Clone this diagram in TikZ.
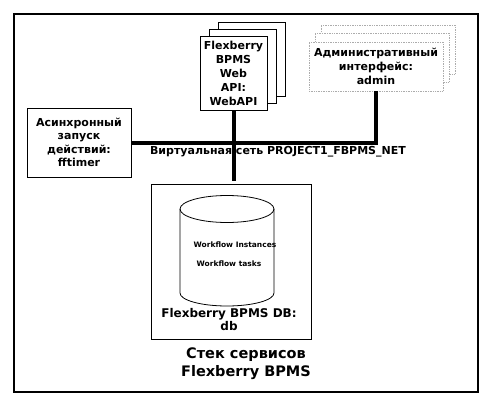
\documentclass[tikz,border=0pt]{standalone}
\usepackage{fontspec}
\setmainfont{DejaVu Sans}
\begin{document}
\begin{tikzpicture}[x=1pt,y=-1pt,
  box/.style={draw=black, line width=0.8pt, fill=white, inner sep=0pt},
  ghost/.style={draw=gray!65, line width=0.7pt, densely dotted, fill=white, inner sep=0pt},
  lbl/.style={font=\bfseries\fontsize{11}{14}\selectfont, align=center},
  small/.style={font=\bfseries\fontsize{7.5}{9}\selectfont},
  title/.style={font=\bfseries\fontsize{14.5}{18}\selectfont, align=center},
  bus/.style={line width=4pt}]
\useasboundingbox[fill=white] (0,0) rectangle (495,404);
\draw[line width=1.5pt] (14,14) rectangle (478,392);
% WebAPI stack
\node[box, minimum width=67pt, minimum height=74pt] (web3) at (251.5,59) {};
\node[box, minimum width=67pt, minimum height=74pt] (web2) at (242.5,66) {};
\node[box, minimum width=67pt, minimum height=74pt, lbl] (web) at (233.5,73) {Flexberry\\BPMS\\Web\\API:\\WebAPI};
% admin stack
\node[ghost, minimum width=134pt, minimum height=49pt] (adm3) at (388,49.5) {};
\node[ghost, minimum width=134pt, minimum height=49pt] (adm2) at (382,57.5) {};
\node[ghost, minimum width=134pt, minimum height=49pt, lbl] (adm) at (376,66.5) {Административный\\интерфейс:\\admin};
% fftimer
\node[box, minimum width=104pt, minimum height=69pt, lbl, font=\bfseries\fontsize{11}{13.5}\selectfont] (ff) at (79,142.5) {Асинхронный\\запуск\\действий:\\fftimer};
% DB box
\node[box, minimum width=160pt, minimum height=155pt] (db) at (231,261.5) {};
% connectors
\coordinate (j) at (adm.south |- ff.east);
\coordinate (dbtop) at (web.south |- 0,181);
\draw[bus] (ff.east) -- (j) -- (adm.south);
\draw[bus] (web.south) -- (dbtop);
\node[lbl] (net) at (278,152) {Виртуальная сеть PROJECT1\_FBPMS\_NET};
% cylinder
\draw[line width=0.8pt] (180,209) -- (180,293) arc[start angle=180, end angle=360, x radius=47, y radius=-13] -- (274,209);
\draw[line width=0.8pt] (227,209) ellipse[x radius=47, y radius=13.5];
\node[small] (wi) at (235,245) {Workflow Instances};
\node[small] (wt) at (229,264) {Workflow tasks};
\node[lbl, font=\bfseries\fontsize{12}{13}\selectfont] (dbl) at (229,320) {Flexberry BPMS DB:\\db};
\node[title] (t) at (246,364) {Стек сервисов\\Flexberry BPMS};
\end{tikzpicture}
\end{document}
